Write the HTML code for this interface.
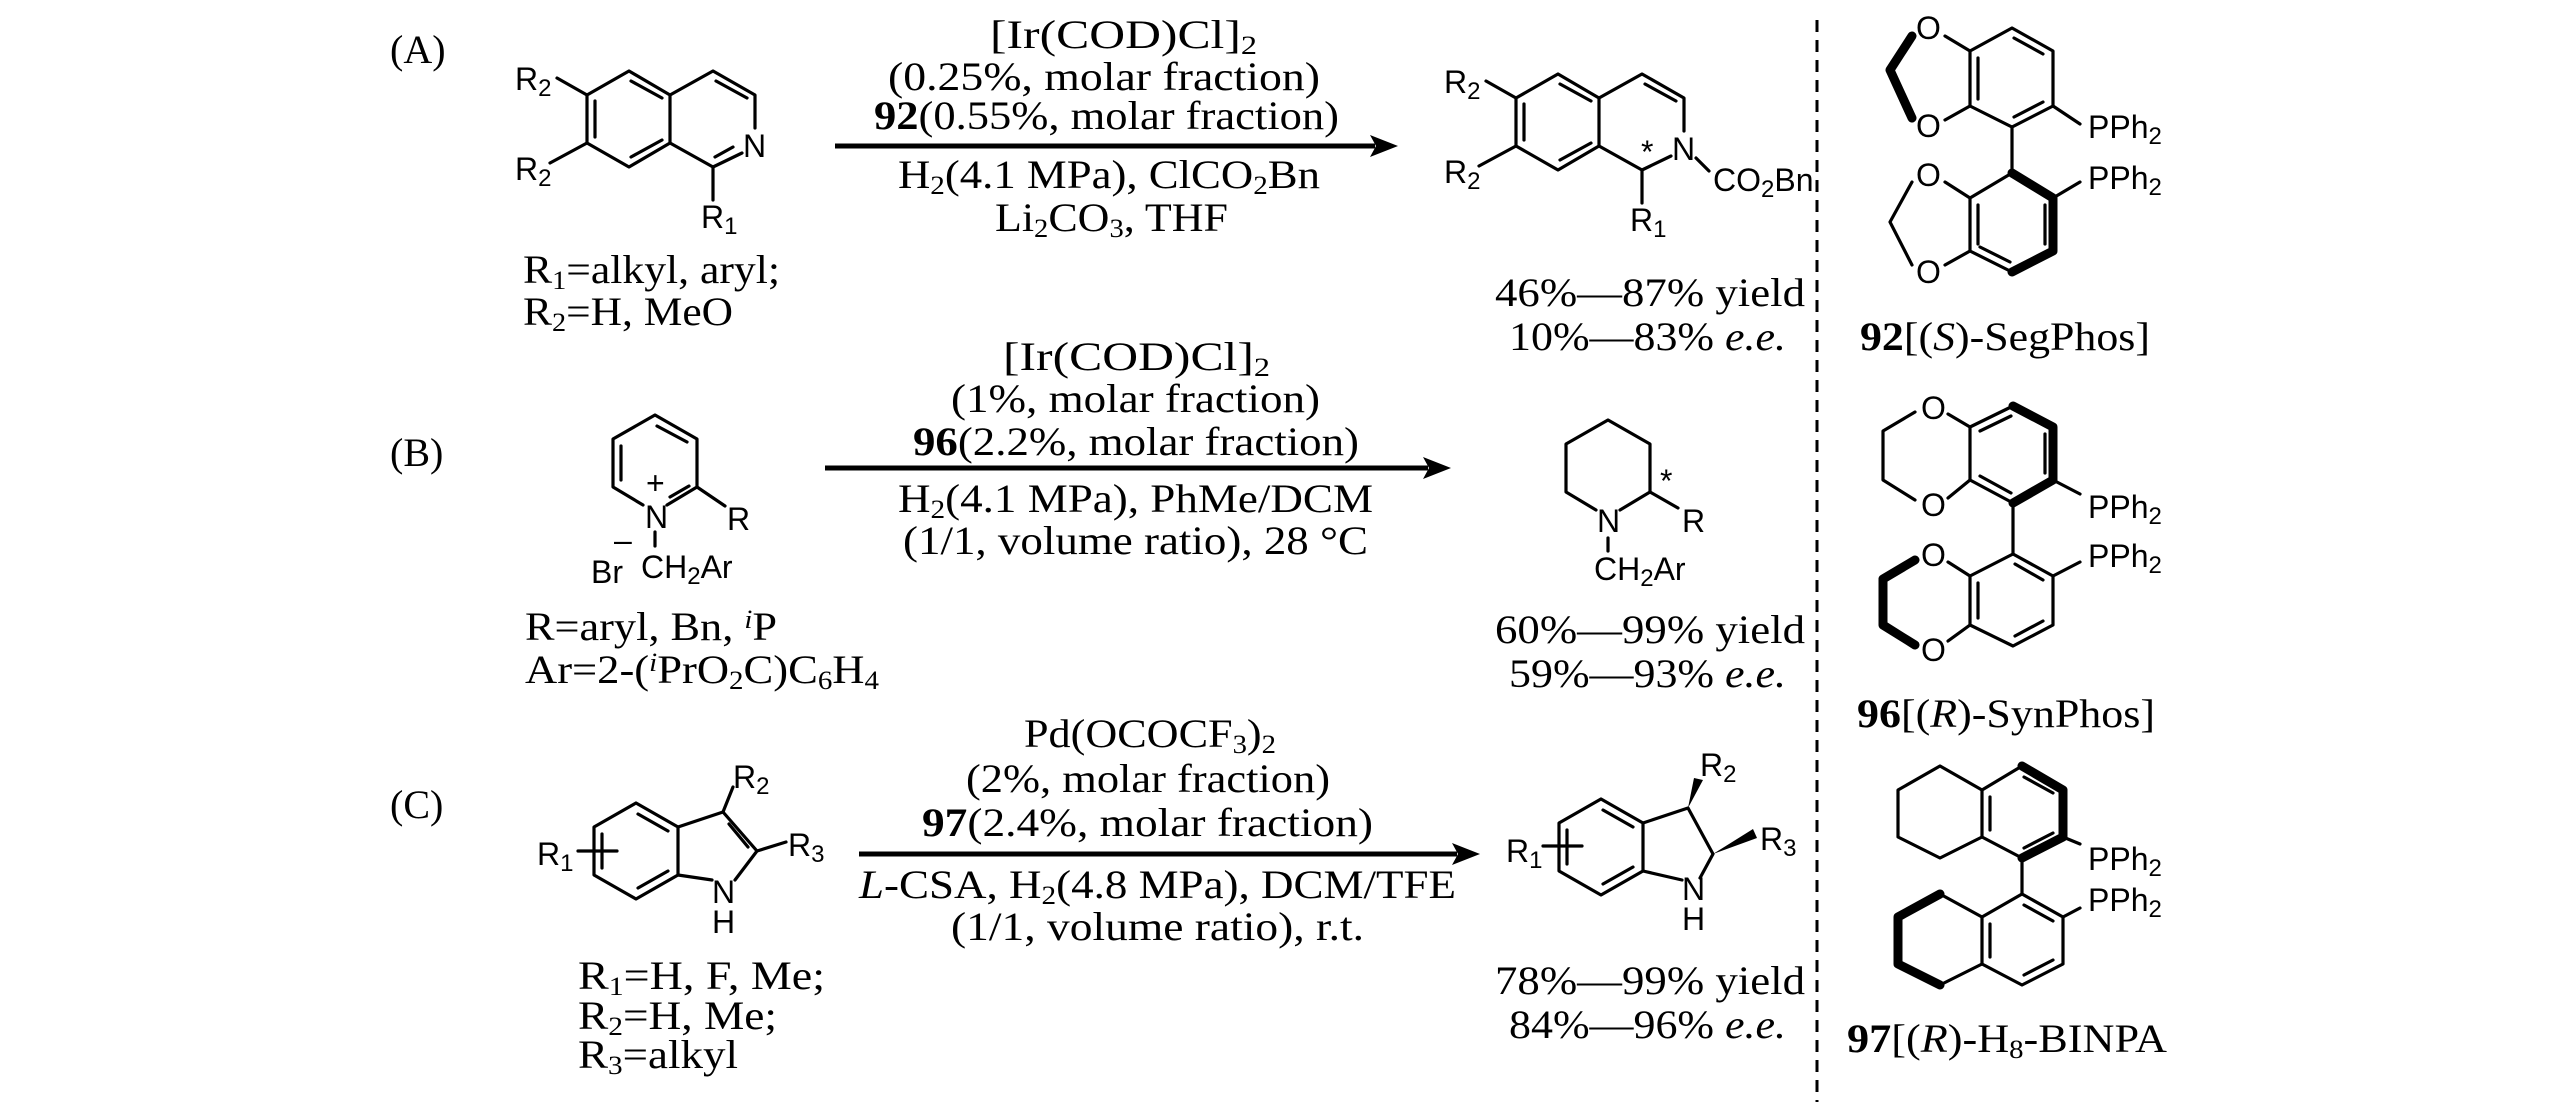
<!DOCTYPE html>
<html><head><meta charset="utf-8"><style>
html,body{margin:0;padding:0;background:#fff}
svg{display:block}
.t{font-family:"Liberation Serif",serif;font-size:40px;fill:#000}
.s{font-family:"Liberation Sans",sans-serif;font-size:32px;fill:#000}
.b{stroke:#000;stroke-width:3.2;fill:none;stroke-linecap:round;stroke-linejoin:round}
.k{stroke:#000;stroke-width:9;fill:none;stroke-linecap:round;stroke-linejoin:round}
</style></head><body>
<svg width="2567" height="1102" viewBox="0 0 2567 1102" xmlns="http://www.w3.org/2000/svg">
<rect width="2567" height="1102" fill="#fff"/>

<!-- ===== (A) ===== -->
<text class="t" x="390" y="63">(A)</text>
<g id="isoq">
<polyline class="b" points="629,71 670,95 670,143 629,167 587,143 587,95 629,71"/>
<line class="b" x1="595" y1="101" x2="595" y2="137"/>
<line class="b" x1="631" y1="81" x2="662" y2="98"/>
<line class="b" x1="631" y1="157" x2="662" y2="140"/>
<polyline class="b" points="670,95 713,71 755,95 755,128"/>
<line class="b" x1="716" y1="81" x2="747" y2="98"/>
<line class="b" x1="742" y1="153" x2="713" y2="167"/>
<line class="b" x1="713" y1="167" x2="670" y2="143"/>
<line class="b" x1="713" y1="167" x2="713" y2="200"/>
<line class="b" x1="557" y1="78" x2="587" y2="95"/>
<line class="b" x1="550" y1="163" x2="587" y2="143"/>
<text class="s" x="515" y="90">R<tspan font-size="24" dy="6">2</tspan></text>
<text class="s" x="515" y="180">R<tspan font-size="24" dy="6">2</tspan></text>
<text class="s" x="701" y="228">R<tspan font-size="24" dy="6">1</tspan></text>
</g>
<line class="b" x1="733" y1="147" x2="715" y2="157"/>
<text class="s" x="743" y="157">N</text>

<text class="t" x="523" y="283" textLength="257" lengthAdjust="spacingAndGlyphs">R<tspan font-size="26" dy="6">1</tspan><tspan dy="-6">=alkyl, aryl;</tspan></text>
<text class="t" x="523" y="325" textLength="210" lengthAdjust="spacingAndGlyphs">R<tspan font-size="26" dy="6">2</tspan><tspan dy="-6">=H, MeO</tspan></text>

<text class="t" x="990" y="48" textLength="267" lengthAdjust="spacingAndGlyphs">[Ir(COD)Cl]<tspan font-size="26" dy="6">2</tspan></text>
<text class="t" x="888" y="90" textLength="432" lengthAdjust="spacingAndGlyphs">(0.25%, molar fraction)</text>
<text class="t" x="874" y="129" textLength="465" lengthAdjust="spacingAndGlyphs"><tspan font-weight="bold">92</tspan>(0.55%, molar fraction)</text>
<line x1="835" y1="146" x2="1375" y2="146" stroke="#000" stroke-width="5"/>
<polygon points="1398,146 1370,135 1376,146 1370,157" fill="#000"/>
<text class="t" x="898" y="188" textLength="422" lengthAdjust="spacingAndGlyphs">H<tspan font-size="26" dy="6">2</tspan><tspan dy="-6">(4.1 MPa), ClCO</tspan><tspan font-size="26" dy="6">2</tspan><tspan dy="-6">Bn</tspan></text>
<text class="t" x="995" y="231" textLength="233" lengthAdjust="spacingAndGlyphs">Li<tspan font-size="26" dy="6">2</tspan><tspan dy="-6">CO</tspan><tspan font-size="26" dy="6">3</tspan><tspan dy="-6">, THF</tspan></text>

<!-- product A -->
<g transform="translate(929,3)">
<polyline class="b" points="629,71 670,95 670,143 629,167 587,143 587,95 629,71"/>
<line class="b" x1="595" y1="101" x2="595" y2="137"/>
<line class="b" x1="631" y1="81" x2="662" y2="98"/>
<line class="b" x1="631" y1="157" x2="662" y2="140"/>
<polyline class="b" points="670,95 713,71 755,95 755,128"/>
<line class="b" x1="716" y1="81" x2="747" y2="98"/>
<line class="b" x1="742" y1="153" x2="713" y2="167"/>
<line class="b" x1="713" y1="167" x2="670" y2="143"/>
<line class="b" x1="713" y1="167" x2="713" y2="200"/>
<line class="b" x1="557" y1="78" x2="587" y2="95"/>
<line class="b" x1="550" y1="163" x2="587" y2="143"/>
<text class="s" x="515" y="90">R<tspan font-size="24" dy="6">2</tspan></text>
<text class="s" x="515" y="180">R<tspan font-size="24" dy="6">2</tspan></text>
<text class="s" x="701" y="228">R<tspan font-size="24" dy="6">1</tspan></text>
<text class="s" x="743" y="157">N</text>
<text class="s" x="712" y="160" font-size="20">*</text>
<line class="b" x1="767" y1="155" x2="780" y2="168"/>
<text class="s" x="784" y="188">CO<tspan font-size="24" dy="6">2</tspan><tspan dy="-6">Bn</tspan></text>
</g>
<text class="t" x="1495" y="306" textLength="310" lengthAdjust="spacingAndGlyphs">46%—87% yield</text>
<text class="t" x="1509" y="350" textLength="277" lengthAdjust="spacingAndGlyphs">10%—83% <tspan font-style="italic">e.e.</tspan></text>

<!-- ===== (B) ===== -->
<text class="t" x="390" y="466">(B)</text>
<polyline class="b" points="667,505 697,487 697,439 655,415 613,439 613,487 643,505"/>
<line class="b" x1="657" y1="426" x2="687" y2="442"/>
<line class="b" x1="621" y1="446" x2="621" y2="480"/>
<line class="b" x1="670" y1="497" x2="689" y2="486"/>
<line class="b" x1="697" y1="487" x2="725" y2="506"/>
<text class="s" x="645" y="528">N</text>
<text class="s" x="646" y="494" font-size="26">+</text>
<text class="s" x="727" y="530">R</text>
<line class="b" x1="655" y1="532" x2="655" y2="546"/>
<text class="s" x="614" y="551" font-size="28">–</text>
<text class="s" x="591" y="583">Br</text>
<text class="s" x="641" y="578">CH<tspan font-size="24" dy="6">2</tspan><tspan dy="-6">Ar</tspan></text>

<text class="t" x="1003" y="370" textLength="267" lengthAdjust="spacingAndGlyphs">[Ir(COD)Cl]<tspan font-size="26" dy="6">2</tspan></text>
<text class="t" x="951" y="412" textLength="369" lengthAdjust="spacingAndGlyphs">(1%, molar fraction)</text>
<text class="t" x="913" y="455" textLength="446" lengthAdjust="spacingAndGlyphs"><tspan font-weight="bold">96</tspan>(2.2%, molar fraction)</text>
<line x1="825" y1="468" x2="1428" y2="468" stroke="#000" stroke-width="5"/>
<polygon points="1451,468 1423,457 1429,468 1423,479" fill="#000"/>
<text class="t" x="898" y="512" textLength="475" lengthAdjust="spacingAndGlyphs">H<tspan font-size="26" dy="6">2</tspan><tspan dy="-6">(4.1 MPa), PhMe/DCM</tspan></text>
<text class="t" x="903" y="554" textLength="465" lengthAdjust="spacingAndGlyphs">(1/1, volume ratio), 28 °C</text>

<text class="t" x="525" y="640" textLength="252" lengthAdjust="spacingAndGlyphs">R=aryl, Bn, <tspan font-style="italic" font-size="26" dy="-12">i</tspan><tspan dy="12">P</tspan></text>
<text class="t" x="525" y="683" textLength="354" lengthAdjust="spacingAndGlyphs">Ar=2-(<tspan font-style="italic" font-size="26" dy="-12">i</tspan><tspan dy="12">PrO</tspan><tspan font-size="26" dy="6">2</tspan><tspan dy="-6">C)C</tspan><tspan font-size="26" dy="6">6</tspan><tspan dy="-6">H</tspan><tspan font-size="26" dy="6">4</tspan></text>

<!-- product B -->
<polyline class="b" points="1620,510 1650,492 1650,444 1608,420 1566,444 1566,492 1596,510"/>
<line class="b" x1="1650" y1="492" x2="1678" y2="508"/>
<text class="s" x="1597" y="532">N</text>
<text class="s" x="1660" y="492" font-size="20">*</text>
<text class="s" x="1682" y="532">R</text>
<line class="b" x1="1608" y1="538" x2="1608" y2="551"/>
<text class="s" x="1594" y="580">CH<tspan font-size="24" dy="6">2</tspan><tspan dy="-6">Ar</tspan></text>
<text class="t" x="1495" y="643" textLength="310" lengthAdjust="spacingAndGlyphs">60%—99% yield</text>
<text class="t" x="1509" y="687" textLength="277" lengthAdjust="spacingAndGlyphs">59%—93% <tspan font-style="italic">e.e.</tspan></text>

<!-- ===== (C) ===== -->
<text class="t" x="390" y="818">(C)</text>
<polyline class="b" points="636,803 678,827 678,875 636,899 594,875 594,827 636,803"/>
<line class="b" x1="602" y1="834" x2="602" y2="868"/>
<line class="b" x1="638" y1="814" x2="668" y2="831"/>
<line class="b" x1="668" y1="871" x2="638" y2="888"/>
<polyline class="b" points="678,827 723,812 757,851 735,880"/>
<line class="b" x1="729" y1="824" x2="748" y2="847"/>
<line class="b" x1="712" y1="880" x2="678" y2="875"/>
<line class="b" x1="723" y1="812" x2="733" y2="787"/>
<line class="b" x1="757" y1="851" x2="786" y2="842"/>
<line class="b" x1="578" y1="851" x2="617" y2="851"/>
<text class="s" x="712" y="903">N</text>
<text class="s" x="712" y="933">H</text>
<text class="s" x="733" y="788">R<tspan font-size="24" dy="6">2</tspan></text>
<text class="s" x="788" y="856">R<tspan font-size="24" dy="6">3</tspan></text>
<text class="s" x="537" y="865">R<tspan font-size="24" dy="6">1</tspan></text>

<text class="t" x="1024" y="747" textLength="252" lengthAdjust="spacingAndGlyphs">Pd(OCOCF<tspan font-size="26" dy="6">3</tspan><tspan dy="-6">)</tspan><tspan font-size="26" dy="6">2</tspan></text>
<text class="t" x="966" y="792" textLength="364" lengthAdjust="spacingAndGlyphs">(2%, molar fraction)</text>
<text class="t" x="922" y="836" textLength="451" lengthAdjust="spacingAndGlyphs"><tspan font-weight="bold">97</tspan>(2.4%, molar fraction)</text>
<line x1="859" y1="854" x2="1457" y2="854" stroke="#000" stroke-width="5"/>
<polygon points="1480,854 1452,843 1458,854 1452,865" fill="#000"/>
<text class="t" x="859" y="898" textLength="597" lengthAdjust="spacingAndGlyphs"><tspan font-style="italic">L</tspan>-CSA, H<tspan font-size="26" dy="6">2</tspan><tspan dy="-6">(4.8 MPa), DCM/TFE</tspan></text>
<text class="t" x="951" y="940" textLength="413" lengthAdjust="spacingAndGlyphs">(1/1, volume ratio), r.t.</text>

<text class="t" x="578" y="989" textLength="247" lengthAdjust="spacingAndGlyphs">R<tspan font-size="26" dy="6">1</tspan><tspan dy="-6">=H, F, Me;</tspan></text>
<text class="t" x="578" y="1029" textLength="199" lengthAdjust="spacingAndGlyphs">R<tspan font-size="26" dy="6">2</tspan><tspan dy="-6">=H, Me;</tspan></text>
<text class="t" x="578" y="1068" textLength="160" lengthAdjust="spacingAndGlyphs">R<tspan font-size="26" dy="6">3</tspan><tspan dy="-6">=alkyl</tspan></text>

<!-- product C -->
<polyline class="b" points="1601,799 1643,823 1643,871 1601,895 1559,871 1559,823 1601,799"/>
<line class="b" x1="1567" y1="830" x2="1567" y2="864"/>
<line class="b" x1="1603" y1="810" x2="1633" y2="827"/>
<line class="b" x1="1633" y1="867" x2="1603" y2="884"/>
<polyline class="b" points="1643,823 1688,808 1713,854 1700,878"/>
<line class="b" x1="1682" y1="880" x2="1643" y2="871"/>
<polygon points="1688,808 1694,778 1703,780" fill="#000"/>
<polygon points="1713,854 1753,829 1757,838" fill="#000"/>
<line class="b" x1="1543" y1="846" x2="1582" y2="846"/>
<text class="s" x="1682" y="900">N</text>
<text class="s" x="1682" y="930">H</text>
<text class="s" x="1700" y="776">R<tspan font-size="24" dy="6">2</tspan></text>
<text class="s" x="1760" y="850">R<tspan font-size="24" dy="6">3</tspan></text>
<text class="s" x="1506" y="862">R<tspan font-size="24" dy="6">1</tspan></text>
<text class="t" x="1495" y="994" textLength="310" lengthAdjust="spacingAndGlyphs">78%—99% yield</text>
<text class="t" x="1509" y="1038" textLength="277" lengthAdjust="spacingAndGlyphs">84%—96% <tspan font-style="italic">e.e.</tspan></text>

<!-- dashed divider -->
<line x1="1817" y1="20" x2="1817" y2="1102" stroke="#000" stroke-width="3" stroke-dasharray="12,8"/>

<!-- ===== SegPhos ===== -->
<polygon class="b" points="2012,28 2053,51 2053,106 2012,127 1970,106 1970,51"/>
<line class="b" x1="2014" y1="38" x2="2043" y2="54"/>
<line class="b" x1="1978" y1="58" x2="1978" y2="99"/>
<line class="b" x1="2043" y1="102" x2="2014" y2="117"/>
<line class="b" x1="1970" y1="51" x2="1945" y2="36"/>
<line class="b" x1="1970" y1="106" x2="1945" y2="120"/>
<polyline class="k" points="1912,36 1890,70 1912,118"/>
<text class="s" x="1916" y="39">O</text>
<text class="s" x="1916" y="137">O</text>
<line class="b" x1="2012" y1="127" x2="2012" y2="173"/>
<polygon class="b" points="2012,173 2053,198 2053,251 2012,272 1970,251 1970,198"/>
<polyline class="k" points="2012,173 2053,198 2053,251 2012,272"/>
<line class="b" x1="1978" y1="205" x2="1978" y2="244"/>
<line class="b" x1="2045" y1="205" x2="2045" y2="244"/>
<line class="b" x1="2010" y1="262" x2="1980" y2="247"/>
<line class="b" x1="1970" y1="198" x2="1945" y2="182"/>
<line class="b" x1="1970" y1="251" x2="1945" y2="265"/>
<polyline class="b" points="1912,182 1890,222 1912,265"/>
<text class="s" x="1916" y="186">O</text>
<text class="s" x="1916" y="283">O</text>
<line class="b" x1="2053" y1="106" x2="2080" y2="124"/>
<line class="b" x1="2053" y1="198" x2="2080" y2="182"/>
<text class="s" x="2088" y="138">PPh<tspan font-size="24" dy="6">2</tspan></text>
<text class="s" x="2088" y="189">PPh<tspan font-size="24" dy="6">2</tspan></text>
<text class="t" x="1860" y="350" textLength="290" lengthAdjust="spacingAndGlyphs"><tspan font-weight="bold">92</tspan>[(<tspan font-style="italic">S</tspan>)-SegPhos]</text>

<!-- ===== SynPhos ===== -->
<polygon class="b" points="2013,406 2053,427 2053,480 2013,503 1970,480 1970,427"/>
<polyline class="k" points="2013,406 2053,427 2053,480 2013,503"/>
<line class="b" x1="1980" y1="431" x2="2011" y2="416"/>
<line class="b" x1="2045" y1="434" x2="2045" y2="473"/>
<line class="b" x1="2011" y1="493" x2="1980" y2="476"/>
<line class="b" x1="1970" y1="427" x2="1948" y2="414"/>
<line class="b" x1="1970" y1="480" x2="1948" y2="498"/>
<polyline class="b" points="1915,412 1883,431 1883,480 1915,500"/>
<text class="s" x="1921" y="419">O</text>
<text class="s" x="1921" y="516">O</text>
<line class="b" x1="2013" y1="503" x2="2013" y2="554"/>
<polygon class="b" points="2013,554 2053,576 2053,625 2013,646 1970,625 1970,576"/>
<line class="b" x1="2015" y1="564" x2="2043" y2="580"/>
<line class="b" x1="1978" y1="583" x2="1978" y2="618"/>
<line class="b" x1="2043" y1="621" x2="2015" y2="636"/>
<line class="b" x1="1970" y1="576" x2="1948" y2="562"/>
<line class="b" x1="1970" y1="625" x2="1948" y2="641"/>
<polyline class="k" points="1915,560 1883,579 1883,625 1915,645"/>
<text class="s" x="1921" y="566">O</text>
<text class="s" x="1921" y="661">O</text>
<line class="b" x1="2053" y1="480" x2="2080" y2="494"/>
<line class="b" x1="2053" y1="576" x2="2080" y2="562"/>
<text class="s" x="2088" y="518">PPh<tspan font-size="24" dy="6">2</tspan></text>
<text class="s" x="2088" y="567">PPh<tspan font-size="24" dy="6">2</tspan></text>
<text class="t" x="1857" y="727" textLength="298" lengthAdjust="spacingAndGlyphs"><tspan font-weight="bold">96</tspan>[(<tspan font-style="italic">R</tspan>)-SynPhos]</text>

<!-- ===== H8-BINPA ===== -->
<polygon class="b" points="2022,766 2063,790 2063,837 2022,858 1982,837 1982,790"/>
<polyline class="k" points="2022,766 2063,790 2063,837 2022,858"/>
<line class="b" x1="2024" y1="777" x2="2053" y2="793"/>
<line class="b" x1="1990" y1="797" x2="1990" y2="830"/>
<line class="b" x1="2053" y1="833" x2="2024" y2="848"/>
<polyline class="b" points="1982,790 1940,766 1898,790 1898,837 1940,858 1982,837"/>
<line class="b" x1="2022" y1="858" x2="2022" y2="894"/>
<polygon class="b" points="2022,894 2063,917 2063,964 2022,985 1982,964 1982,917"/>
<line class="b" x1="2024" y1="905" x2="2053" y2="921"/>
<line class="b" x1="1990" y1="924" x2="1990" y2="957"/>
<line class="b" x1="2053" y1="960" x2="2024" y2="975"/>
<polyline class="b" points="1982,917 1940,894"/>
<polyline class="b" points="1940,985 1982,964"/>
<polyline class="k" points="1940,894 1898,917 1898,964 1940,985"/>
<line class="b" x1="2063" y1="837" x2="2080" y2="844"/>
<line class="b" x1="2063" y1="917" x2="2080" y2="908"/>
<text class="s" x="2088" y="870">PPh<tspan font-size="24" dy="6">2</tspan></text>
<text class="s" x="2088" y="911">PPh<tspan font-size="24" dy="6">2</tspan></text>
<text class="t" x="1847" y="1052" textLength="320" lengthAdjust="spacingAndGlyphs"><tspan font-weight="bold">97</tspan>[(<tspan font-style="italic">R</tspan>)-H<tspan font-size="26" dy="6">8</tspan><tspan dy="-6">-BINPA</tspan></text>
</svg>
</body></html>
